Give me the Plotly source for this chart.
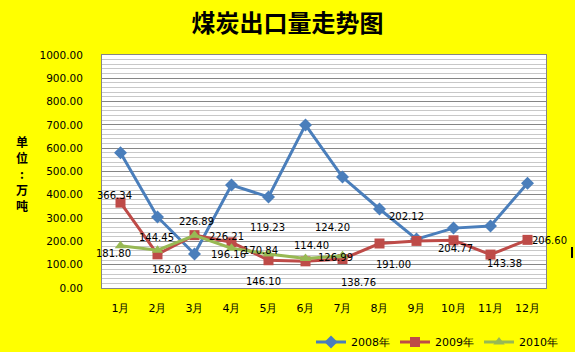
import plotly.graph_objects as go

months = ["1月", "2月", "3月", "4月", "5月", "6月", "7月", "8月", "9月", "10月", "11月", "12月"]
y2008 = [580, 305, 146, 442, 391, 700, 476, 339, 210, 257, 266, 450]
y2009 = [366.34, 144.45, 226.89, 196.16, 119.23, 114.40, 124.20, 191.00, 202.12, 204.77, 143.38, 206.60]
y2010 = [181.80, 162.03, 226.21, 170.84, 146.10, 126.99, 138.76]
yticks = [0, 100, 200, 300, 400, 500, 600, 700, 800, 900, 1000]
unit_chars = ["单", "位", ":", "万", "吨"]

# label offsets in pixels (dx, dy up)
off2009 = [(-6, 7), (-1, 17), (2, 14), (-3, -12), (-1, 33), (6, 16), (-10, 32),
           (14, -21), (-10, 24), (2, -8), (14, -9), (22, -1)]
off2010 = [(-7, -8), (12, -19), (32, -1), (29, -2), (-5, -28), (30, 1), (16, -27)]

PLOT_TOP, PLOT_BOTTOM = 55, 288
PH = PLOT_BOTTOM - PLOT_TOP

fig = go.Figure()
fig.add_trace(go.Scatter(x=months, y=y2008, mode="lines+markers", name="2008年",
                         line=dict(color="#4A7EBB", width=3),
                         marker=dict(symbol="diamond", size=10, color="#4A7EBB")))
fig.add_trace(go.Scatter(x=months, y=y2009, mode="lines+markers", name="2009年",
                         line=dict(color="#BE4B48", width=3),
                         marker=dict(symbol="square", size=10, color="#BE4B48")))
fig.add_trace(go.Scatter(x=months[:len(y2010)], y=y2010, mode="lines+markers", name="2010年",
                         line=dict(color="#98B954", width=3),
                         marker=dict(symbol="triangle-up", size=10, color="#98B954")))

lab_font = dict(family="DejaVu Sans", size=10, color="#000000")
for m, v, (dx, dy) in zip(months, y2009, off2009):
    fig.add_annotation(x=m, y=v, text=f"{v:.2f}", showarrow=False, xshift=dx, yshift=dy, font=lab_font)
for m, v, (dx, dy) in zip(months, y2010, off2010):
    fig.add_annotation(x=m, y=v, text=f"{v:.2f}", showarrow=False, xshift=dx, yshift=dy, font=lab_font)

for i, ch in enumerate(unit_chars):
    ypix = 141 + 16 * i
    fig.add_annotation(xref="paper", yref="paper", x=-0.18, y=(PLOT_BOTTOM - ypix) / PH,
                       xanchor="center", yanchor="middle", text=ch, showarrow=False,
                       font=dict(family="Noto Sans CJK SC", size=12, color="#000000", weight="bold"))

fig.update_layout(
    width=575, height=352,
    margin=dict(l=102, r=29, t=PLOT_TOP, b=352 - PLOT_BOTTOM),
    paper_bgcolor="#FFFF00",
    plot_bgcolor="#FFFFFF",
    title=dict(text="煤炭出口量走势图", x=0.5, xanchor="center", xref="container",
               y=1 - 24 / 352, yanchor="middle", yref="container",
               font=dict(family="Noto Sans CJK SC", size=24, color="#000000", weight="bold")),
    showlegend=True,
    legend=dict(orientation="h", xref="container", x=1 - 12 / 575, xanchor="right",
                yref="container", y=(352 - 342) / 352, yanchor="middle",
                bgcolor="rgba(0,0,0,0)", font=dict(family="DejaVu Sans", size=11, color="#000000"),
                itemwidth=30, tracegroupgap=0),
    font=dict(family="DejaVu Sans", size=11, color="#000000"),
)
fig.update_xaxes(type="category", range=[-0.5, 11.5], showgrid=False, showline=True,
                 linecolor="#868686", linewidth=1, mirror=True, ticks="",
                 tickfont=dict(family="DejaVu Sans", size=11), ticklabelstandoff=10)
fig.update_yaxes(range=[0, 1000], tickvals=yticks, ticktext=[f"{t:.2f}" for t in yticks],
                 showgrid=True, gridcolor="#868686", gridwidth=1,
                 minor=dict(dtick=20, showgrid=True, gridcolor="#C8C8C8", gridwidth=1),
                 showline=True, linecolor="#868686", linewidth=1, mirror=True,
                 zeroline=False, ticks="", ticklabelstandoff=16,
                 tickfont=dict(family="DejaVu Sans", size=10.5))
fig.add_shape(type="line", xref="paper", yref="paper", x0=1.0586, x1=1.0586, y0=0.129, y1=0.176,
              line=dict(color="#000000", width=2))
fig.write_html("out.html")
